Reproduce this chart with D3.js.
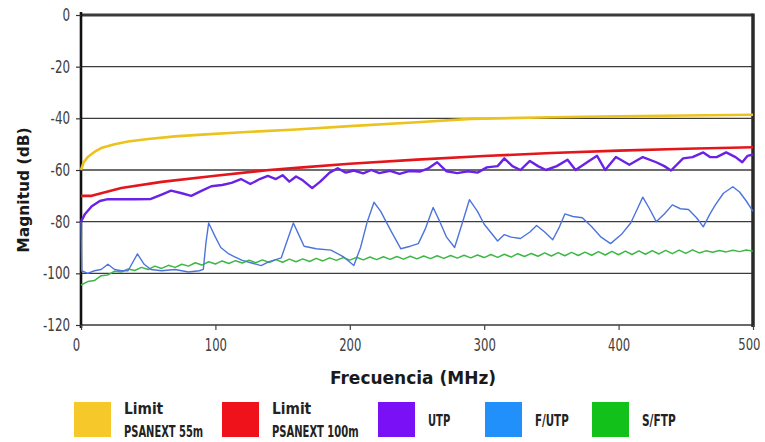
<!DOCTYPE html>
<html>
<head>
<meta charset="utf-8">
<script src="https://cdn.jsdelivr.net/npm/d3@7"></script>
<style>
  body { margin: 0; background: #fff; }
  svg text { font-family: "Liberation Sans Narrow", "DejaVu Sans Condensed", "Roboto", sans-serif; }
</style>
</head>
<body>
<script>
// frequency (MHz), magnitude (dB) pairs
var limit55 = [[0,-60],[2,-57],[5,-55],[10,-53],[15,-51.5],[25,-50],[35,-49],[50,-48],[70,-47],[90,-46.3],
  [120,-45.4],[160,-44.3],[200,-43],[250,-41.5],[290,-40.2],[350,-39.6],[400,-39.2],[450,-38.9],[500,-38.6]];

var limit100 = [[0,-70],[8,-70],[15,-69],[30,-67],[60,-64.6],[100,-62.2],[140,-60],[165,-59],[200,-57.6],
  [250,-56],[300,-54.6],[350,-53.4],[400,-52.5],[450,-51.8],[500,-51.2]];

var utp = [[0,-80],[3,-77],[8,-74],[14,-72],[20,-71.3],[30,-71.3],[40,-71.3],[52,-71.2],[60,-69.5],[67,-68],
  [75,-69],[82,-70],[90,-68],[97,-66.3],[105,-65.8],[112,-65],[119,-63.5],[126,-65.4],[133,-63.5],[139,-62.3],
  [145,-63.5],[150,-62],[155,-64.5],[160,-62.5],[165,-64],[172,-67],[178,-64.5],[185,-61],[191,-59.3],[197,-61],
  [203,-60.2],[210,-61.3],[216,-60],[222,-61.2],[230,-60.3],[237,-61.5],[244,-60.4],[252,-60.6],[258,-59.5],
  [265,-57],[272,-60.5],[280,-61.2],[288,-60.5],[295,-61],[302,-59],[310,-58.5],[315,-55.5],[321,-58.5],
  [327,-60],[334,-56.5],[340,-58.5],[346,-60],[354,-58.5],[362,-56],[368,-60],[378,-56.5],[384,-54.5],
  [390,-60],[398,-55],[408,-58],[418,-55],[428,-57],[434,-58.5],[439,-60.2],[448,-55.5],[455,-55],
  [463,-53.2],[468,-55],[473,-55],[480,-53.2],[487,-55],[492,-57],[496,-54.5],[500,-54]];

var futp = [[0,-80],[0.5,-99],[5,-100],[10,-99],[15,-98.5],[20,-96.5],[25,-98.5],[30,-99],[35,-99],[42,-92.5],
  [47,-96.5],[52,-98.5],[60,-99],[70,-98.5],[80,-99.5],[88,-99],[91,-98.5],[93,-88],[95,-80.5],[100,-86],
  [104,-90],[110,-92.5],[114,-93.5],[120,-95],[127,-96],[134,-97],[140,-95.5],[149,-94],[153,-88],[158,-80.5],
  [162,-85],[166,-89.5],[175,-90.5],[186,-91],[195,-93.5],[203,-97],[208,-90],[213,-80],[218,-72.5],[223,-76],
  [230,-83],[238,-90.5],[245,-89.5],[251,-88.5],[256,-83],[262,-74.5],[267,-80],[272,-86],[278,-90],[284,-80],
  [289,-71.5],[295,-76],[300,-81],[310,-87.5],[315,-85],[320,-86],[327,-86.5],[334,-84],[339,-81.5],[345,-84],
  [351,-87],[356,-82],[360,-77],[366,-78],[373,-78.5],[380,-82],[387,-86],[394,-88.5],[402,-85],[409,-80.5],
  [414,-75],[418,-70.5],[423,-75],[428,-80],[434,-77],[440,-73.5],[446,-75],[452,-75.3],[458,-78.5],[463,-82],
  [468,-77],[472,-73.5],[478,-69],[485,-66.5],[490,-68.5],[495,-72],[500,-76]];

var sftp = [[0,-104.5],[5,-103.2],[10,-102.8],[15,-100.9],[20,-100.6],[25,-99.2],[30,-99.5],[35,-98.3],[40,-98.9],
  [45,-97.7],[50,-98.5],[55,-97.2],[60,-98.1],[65,-96.9],[70,-97.7],[75,-96.5],[80,-97.2],[85,-95.9],[90,-96.8],
  [95,-95.5],[100,-96.4],[105,-95.2],[110,-96.2],[115,-95.1],[120,-96],[125,-94.9],[130,-95.9],[135,-94.8],
  [140,-95.8],[145,-94.7],[150,-95.7],[155,-94.5],[160,-95.5],[165,-94.4],[170,-95.4],[175,-94.2],[180,-95.2],
  [185,-94],[190,-95],[195,-93.9],[200,-94.9],[205,-93.8],[210,-94.8],[215,-93.7],[220,-94.7],[225,-93.6],
  [230,-94.6],[235,-93.5],[240,-94.5],[245,-93.4],[250,-94.4],[255,-93.3],[260,-94.3],[265,-93.2],[270,-94.2],
  [275,-93.1],[280,-94.1],[285,-93],[290,-94],[295,-92.9],[300,-93.9],[305,-92.7],[310,-93.8],[315,-92.6],
  [320,-93.7],[325,-92.4],[330,-93.5],[335,-92.3],[340,-93.4],[345,-92.1],[350,-93.3],[355,-92],[360,-93.2],
  [365,-91.9],[370,-93.1],[375,-91.8],[380,-93],[385,-91.6],[390,-92.9],[395,-91.5],[400,-92.8],[405,-91.4],
  [410,-92.7],[415,-91.3],[420,-92.6],[425,-91.2],[430,-92.5],[435,-91.1],[440,-92.4],[445,-91],[450,-92.3],
  [455,-90.9],[460,-92.1],[465,-91.3],[470,-91.8],[475,-91.2],[480,-91.7],[485,-91.1],[490,-91.6],[495,-91],[500,-91.4]];

var xTicks = [0, 100, 200, 300, 400, 500];
var yTicks = [0, -20, -40, -60, -80, -100, -120];

var series = [
  { name: ["Limit", "PSANEXT 55m"], data: limit55, line: "#ecc21c", swatch: "#f6c82a", w: 2.6 },
  { name: ["Limit", "PSANEXT 100m"], data: limit100, line: "#e4161c", swatch: "#f0121a", w: 2.6 },
  { name: ["UTP"], data: utp, line: "#6a22e6", swatch: "#7a10f6", w: 2.4 },
  { name: ["F/UTP"], data: futp, line: "#4c74dc", swatch: "#2290fa", w: 1.4 },
  { name: ["S/FTP"], data: sftp, line: "#3db844", swatch: "#12c21a", w: 1.5 }
];

var width = 765,
    height = 442;

// squeeze text to look like the narrow font of the original
function narrow(sel, perChar) {
    sel.each(function () {
        var s = this.textContent;
        var w = 0;
        for (var c of s) w += (c == "-" || c == "/" ? 0.55 : (c == " " ? 0.4 : (c == "m" ? 1.3 : 1))) * perChar;
        d3.select(this).attr("textLength", w).attr("lengthAdjust", "spacingAndGlyphs");
    });
}

var svg = d3.select("body").append("svg")
    .attr("width", width)
    .attr("height", height);

var x = d3.scaleLinear().domain([0, 500]).range([81, 753]);
var y = d3.scaleLinear().domain([-120, 0]).range([325, 15]);

// horizontal grid
svg.append("g")
    .selectAll("line")
    .data(yTicks)
    .enter()
    .append("line")
    .attr("x1", x(0))
    .attr("x2", x(500))
    .attr("y1", d => y(d))
    .attr("y2", d => y(d))
    .attr("stroke", d => d == 0 ? "#3a3a3a" : (d == -120 ? "#6a6a6a" : "#3c3c3c"))
    .attr("stroke-width", d => d == 0 ? 3 : (d == -120 ? 2.2 : 1.4));

// right border
svg.append("line")
    .attr("x1", x(500)).attr("x2", x(500))
    .attr("y1", y(0) - 1.5).attr("y2", y(-120) + 2)
    .attr("stroke", "#2a2a2a")
    .attr("stroke-width", 3.5);

// axes
var yAxis = svg.append("g")
    .attr("transform", "translate(" + x(0) + ",0)")
    .call(d3.axisLeft(y).tickValues(yTicks).tickSize(5).tickPadding(6).tickFormat(d => String(d)));
yAxis.select(".domain").attr("stroke", "#111").attr("stroke-width", 2.6)
    .attr("d", "M0," + (y(0) - 3) + "V" + (y(-120) + 3));
yAxis.selectAll(".tick line").attr("stroke", "#333").attr("stroke-width", 1.2);
yAxis.selectAll("text").attr("fill", "#404040").style("font-size", "17px").call(narrow, 7.6);

var xAxis = svg.append("g")
    .attr("transform", "translate(0," + y(-120) + ")")
    .call(d3.axisBottom(x).tickValues(xTicks).tickSize(5).tickPadding(9).tickFormat(d => String(d)));
xAxis.select(".domain").remove();
xAxis.selectAll(".tick line").attr("stroke", "#444").attr("stroke-width", 1.2);
xAxis.selectAll("text").attr("fill", "#404040").style("font-size", "17px").call(narrow, 7.4);
xAxis.selectAll(".tick").filter(d => d == 0).select("text").attr("dx", -5);
xAxis.selectAll(".tick").filter(d => d == 500).select("text")
    .attr("text-anchor", "end").attr("x", 7).style("font-size", "16px");

// lines
var line = d3.line()
    .x(d => x(d[0]))
    .y(d => y(d[1]));

svg.append("g")
    .selectAll("path")
    .data(series.slice().reverse())
    .enter()
    .append("path")
    .attr("d", d => line(d.data))
    .attr("fill", "none")
    .attr("stroke", d => d.line)
    .attr("stroke-width", d => d.w)
    .attr("stroke-linejoin", "round");

// axis titles
svg.append("text")
    .attr("transform", "translate(29,190) rotate(-90)")
    .attr("text-anchor", "middle")
    .style("font-family", "DejaVu Sans")
    .style("font-weight", "bold")
    .style("font-size", "15.5px")
    .attr("fill", "#1a1a1a")
    .text("Magnitud (dB)");

svg.append("text")
    .attr("x", 413)
    .attr("y", 384)
    .attr("text-anchor", "middle")
    .style("font-family", "DejaVu Sans")
    .style("font-weight", "bold")
    .style("font-size", "17px")
    .attr("fill", "#1a1a1a")
    .text("Frecuencia (MHz)");

// legend
var legendX = [74, 222, 378, 485, 592];
var legend = svg.append("g")
    .selectAll("g")
    .data(series)
    .enter()
    .append("g")
    .attr("transform", (d, i) => "translate(" + legendX[i] + ",402)");

legend.append("rect")
    .attr("width", 37)
    .attr("height", 35)
    .attr("fill", d => d.swatch);

legend.each(function (d) {
    var g = d3.select(this);
    if (d.name.length == 2) {
        g.append("text").attr("x", 50).attr("y", 12).text(d.name[0]);
        g.append("text").attr("x", 50).attr("y", 35).text(d.name[1]);
    } else {
        g.append("text").attr("x", 50).attr("y", 24).text(d.name[0]);
    }
});
legend.selectAll("text")
    .attr("fill", "#222")
    .style("font-size", "16px")
    .style("font-weight", "bold")
    .call(narrow, 7.4);
</script>
</body>
</html>
